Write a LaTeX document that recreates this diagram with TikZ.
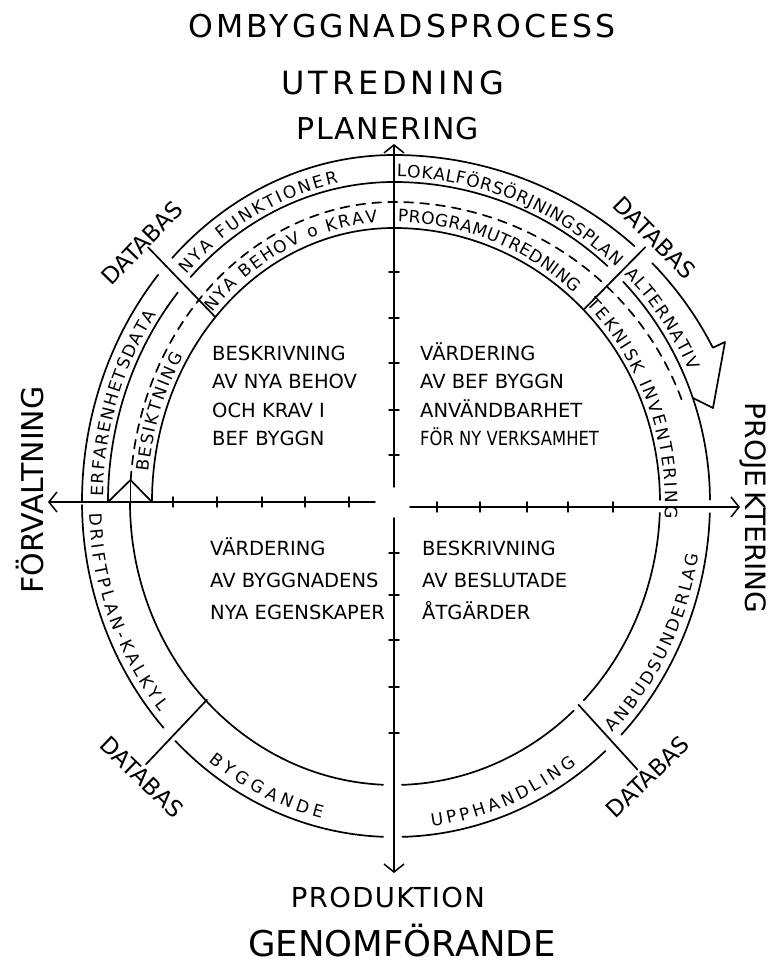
\documentclass[tikz,border=0pt]{standalone}
\usepackage{graphicx}
\usepackage{fontspec}
\setmainfont{DejaVu Sans}
\usetikzlibrary{arrows.meta,decorations.text}

\newcommand\bandfont{\fontsize{17}{20}\selectfont}

\begin{document}
\begin{tikzpicture}[x=1pt,y=1pt,line cap=round,line join=round,
  ring/.style={line width=1.7pt},
  dashring/.style={line width=1.7pt,dash pattern=on 9pt off 7pt},
  axis/.style={line width=1.5pt,-{Straight Barb[length=8pt,width=20pt]}},
  tick/.style={line width=1.5pt},
  bandtext/.style={decorate,decoration={text along path,text align=fit to path,text={|\bandfont|#1}}},
  block/.style={anchor=north west,align=left,inner sep=0pt,font=\fontsize{19.5}{28.5}\selectfont},
  databas/.style={inner sep=0pt,font=\fontsize{23}{26}\selectfont},
  heading/.style={anchor=base,inner sep=0pt}]
\useasboundingbox (-394,-461) rectangle (385,502);
\fill[white] (-394,-461) rectangle (385,502);
\node[heading,font=\fontsize{31.5}{36}\selectfont\addfontfeatures{LetterSpace=10}] (title) at (8,464) {OMBYGGNADSPROCESS};
\node[heading,font=\fontsize{32}{36}\selectfont\addfontfeatures{LetterSpace=12}] (utredning) at (-1,407) {UTREDNING};
\node[heading,font=\fontsize{30}{34}\selectfont\addfontfeatures{LetterSpace=4}] (planering) at (-6,362) {PLANERING};
\node[heading,font=\fontsize{27.5}{32}\selectfont\addfontfeatures{LetterSpace=5}] (produktion) at (-6,-405) {PRODUKTION};
\node[heading,font=\fontsize{35.5}{40}\selectfont] (genomforande) at (8,-454) {GENOMFÖRANDE};
\node[heading,font=\fontsize{30}{34}\selectfont,rotate=90] (forvaltning) at (-350,12) {FÖRVALTNING};
\node[heading,font=\fontsize{28}{32}\selectfont,rotate=-90] (projektering) at (351,-6) {PROJE\hspace{5pt}KTERING};
\coordinate (n0) at (0,15);
\coordinate (n1) at (0,358);
\coordinate (s0) at (0,-16);
\coordinate (s1) at (0,-371);
\coordinate (w0) at (-19,0);
\coordinate (w1) at (-346,0);
\coordinate (e0) at (16,-5);
\coordinate (e1) at (346,-5);
\draw[axis] (n0) -- (n1);
\draw[axis] (s0) -- (s1);
\draw[axis] (w0) -- (w1);
\draw[axis] (e0) -- (e1);
\foreach \y in {47,92,139,184,230} \draw[tick] (-5,\y) -- (5,\y);
\foreach \y in {-51,-93,-138,-185,-231} \draw[tick] (-5,\y) -- (5,\y);
\foreach \x in {-45,-89,-132,-177,-221} \draw[tick] (\x,-5) -- (\x,5);
\foreach \x in {43,86,133,174,219} \draw[tick] (\x,-10) -- (\x,0);
\draw[ring] (47.5:356 and 347) arc[start angle=47.5,end angle=90,x radius=356,y radius=347] arc[start angle=90,end angle=135.3,x radius=312,y radius=347];
\draw[ring] (139.1:312 and 347) arc[start angle=139.1,end angle=180,x radius=312,y radius=347];
\draw[ring] (43.5:356 and 347) arc[start angle=43.5,end angle=26.4,x radius=356,y radius=347] -- (331,160) -- (319,94) -- (299,104);
\draw[ring] (47.5:316 and 320) arc[start angle=47.5,end angle=90,x radius=316,y radius=320] arc[start angle=90,end angle=135.3,x radius=286,y radius=320];
\draw[ring] (139.1:286 and 320) arc[start angle=139.1,end angle=180,x radius=286,y radius=320];
\draw[ring] (43.5:316 and 320) arc[start angle=43.5,end angle=0.4,x radius=316,y radius=320];
\draw[dashring] (20:306 and 300) arc[start angle=20,end angle=90,x radius=306,y radius=300] arc[start angle=90,end angle=175.8,x radius=264,y radius=300];
\draw[ring] (0.4:266 and 274) arc[start angle=0.4,end angle=90,x radius=266,y radius=274] arc[start angle=90,end angle=180,x radius=242,y radius=274];
\draw[ring] (-286,0) -- (-263.5,22) -- (-242,0);
\draw[ring] (-263.5,22) -- (-263.5,0);
\draw[ring] (180.5:312 and 335) arc[start angle=180.5,end angle=222.4,x radius=312,y radius=335];
\draw[ring] (225.5:312 and 335) arc[start angle=225.5,end angle=268,x radius=312,y radius=335];
\draw[ring] (180:264 and 283) arc[start angle=180,end angle=267.6,x radius=264,y radius=283];
\draw[ring] (271.5:316 and 335) arc[start angle=271.5,end angle=312,x radius=316,y radius=335];
\draw[ring] (316:316 and 335) arc[start angle=316,end angle=358.1,x radius=316,y radius=335];
\draw[ring] (271.7:266 and 283) arc[start angle=271.7,end angle=312.5,x radius=266,y radius=283];
\draw[ring] (315.5:266 and 283) arc[start angle=315.5,end angle=357.8,x radius=266,y radius=283];
\coordinate (nwin) at (134:257);
\coordinate (nwout) at (134:354);
\coordinate (nein) at (45.4:271);
\coordinate (neout) at (45.4:358);
\coordinate (swin) at (226.6:272);
\coordinate (swout) at (226.6:361);
\coordinate (sein) at (312.3:274);
\coordinate (seout) at (312.3:362);
\draw[ring] (nwin) -- (nwout);
\draw[ring] (nein) -- (neout);
\draw[ring] (swin) -- (swout);
\draw[ring] (sein) -- (seout);
\node[databas,rotate=46] (dbnw) at (134.2:361) {DATABAS};
\node[databas,rotate=-45] (dbne) at (45.4:371) {DATABAS};
\node[databas,rotate=-44] (dbsw) at (227.5:373) {DATABAS};
\node[databas,rotate=44] (dbse) at (312.7:374) {DATABAS};
\path[bandtext={NYA FUNKTIONER}] (135.5:291 and 325) arc[start angle=135.5,end angle=101,x radius=291,y radius=325];
\path[bandtext={LOKALFÖRSÖRJNINGSPLAN}] (89.5:321 and 325) arc[start angle=89.5,end angle=46.2,x radius=321,y radius=325];
\path[bandtext={NYA BEHOV o KRAV}] (137.4:247 and 280) arc[start angle=137.4,end angle=93.8,x radius=247,y radius=280];
\path[bandtext={PROGRAMUTREDNING}] (89.2:271 and 280) arc[start angle=89.2,end angle=48.3,x radius=271,y radius=280];
\path[bandtext={ALTERNATIV}] (44.5:323 and 325) arc[start angle=44.5,end angle=23.8,x radius=323,y radius=325];
\path[bandtext={TEKNISK INVENTERING}] (44.8:271 and 280) arc[start angle=44.8,end angle=-3.3,x radius=271,y radius=280];
\path[bandtext={ERFARENHETSDATA}] (179:291 and 325) arc[start angle=179,end angle=144.7,x radius=291,y radius=325];
\path[bandtext={BESIKTNING}] (173.8:247 and 280) arc[start angle=173.8,end angle=148.6,x radius=247,y radius=280];
\path[bandtext={DRIFTPLAN-KALKYL}] (182:305 and 326) arc[start angle=182,end angle=220,x radius=305,y radius=326];
\path[bandtext={BYGGANDE}] (232.6:305 and 326) arc[start angle=232.6,end angle=256.3,x radius=305,y radius=326];
\path[bandtext={UPPHANDLING}] (277.1:306 and 327) arc[start angle=277.1,end angle=306.6,x radius=306,y radius=327];
\path[bandtext={ANBUDSUNDERLAG}] (315.1:309 and 327) arc[start angle=315.1,end angle=350.8,x radius=309,y radius=327];
\node[block] (nwtext) at (-182,161) {\rule{0pt}{19pt}BESKRIVNING\\AV NYA BEHOV\\OCH KRAV I\\BEF BYGGN};
\node[block] (netext) at (26,161) {\rule{0pt}{19pt}VÄRDERING\\AV BEF BYGGN\\ANVÄNDBARHET\\\scalebox{0.84}[1]{FÖR NY VERKSAMHET}};
\node[block,font=\fontsize{19.5}{32}\selectfont] (swtext) at (-184,-34) {\rule{0pt}{19pt}VÄRDERING\\AV BYGGNADENS\\NYA EGENSKAPER};
\node[block,font=\fontsize{19.5}{32}\selectfont] (setext) at (28,-34) {\rule{0pt}{19pt}BESKRIVNING\\AV BESLUTADE\\ÅTGÄRDER};
\end{tikzpicture}
\end{document}
